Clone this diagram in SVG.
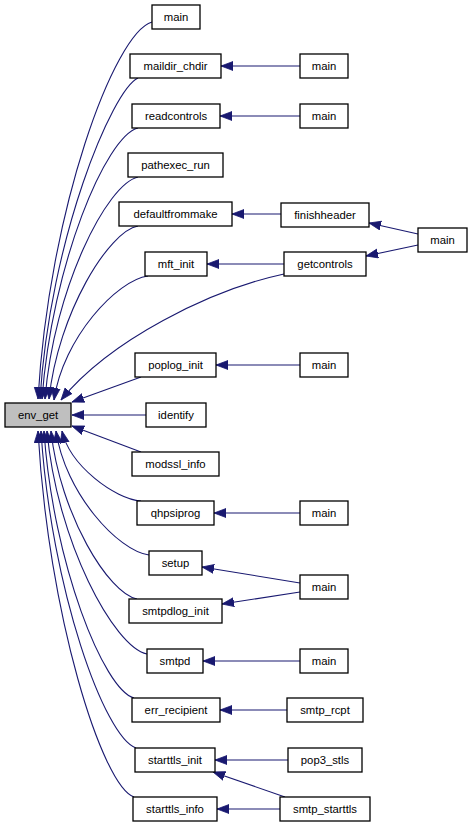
<svg xmlns="http://www.w3.org/2000/svg" width="472" height="827" viewBox="0 0 472 827">
<style>
.n rect{fill:#ffffff;stroke:#000000;stroke-width:1.3}
.n.hl rect{fill:#bfbfbf}
.n text{font-family:"Liberation Sans",Arial,sans-serif;font-size:11.3px;fill:#000000;text-anchor:middle}
.e path{fill:none;stroke:#191970;stroke-width:1.1;marker-end:url(#arr)}
</style>
<defs>
<marker id="arr" markerUnits="userSpaceOnUse" markerWidth="14" markerHeight="11" refX="12" refY="5" orient="auto">
<path d="M0,0.5 L12,5 L0,9.5 z" fill="#191970" stroke="#191970" stroke-width="0.8"/>
</marker>
</defs>
<rect width="472" height="827" fill="#ffffff"/>
<g id="edges" class="e">
<path d="M152,22 C114,33 49,210 38,399"/>
<path d="M138,78 C112,90 50,239 40,399"/>
<path d="M138,128 C106,136 52,264 42,399"/>
<path d="M138,177 C107,184 54,288 45,399"/>
<path d="M138,226 C109,231 58,313 49,399"/>
<path d="M148,276 C117,280 63,338 54,400"/>
<path d="M284,274 C210,290 110,340 61,400"/>
<path d="M141,377 L72,402"/>
<path d="M146,415 L72,415"/>
<path d="M141,452 L72,426"/>
<path d="M141,501 C115,499 70,466 62,431"/>
<path d="M149,555 C118,551 65,493 56,431"/>
<path d="M137,599 C109,594 60,515 51,431"/>
<path d="M147,654 C114,647 57,542 47,431"/>
<path d="M134,698 C104,690 53,564 44,431"/>
<path d="M136,748 C105,738 51,590 41,431"/>
<path d="M134,797 C102,786 48,614 38,431"/>
<path d="M300,66 L221,66"/>
<path d="M300,116 L220,116"/>
<path d="M281,214 L232,214"/>
<path d="M418,234 L369,223"/>
<path d="M418,245 L366,256"/>
<path d="M284,264 L207,264"/>
<path d="M300,365 L216,365"/>
<path d="M300,513 L214,513"/>
<path d="M300,583 L202,567"/>
<path d="M300,592 L222,604"/>
<path d="M300,661 L203,661"/>
<path d="M287,710 L220,710"/>
<path d="M288,760 L215,760"/>
<path d="M285,797 L213,772"/>
<path d="M280,809 L217,809"/>
</g>
<g id="n_main_a" class="n"><rect x="152" y="5" width="48" height="24"/><text x="176" y="21">main</text></g>
<g id="n_maildir_chdir" class="n"><rect x="130" y="54" width="91" height="24"/><text x="175.5" y="70">maildir_chdir</text></g>
<g id="n_main_b" class="n"><rect x="300" y="54" width="48" height="24"/><text x="324" y="70">main</text></g>
<g id="n_readcontrols" class="n"><rect x="132" y="104" width="88" height="24"/><text x="176" y="120">readcontrols</text></g>
<g id="n_main_c" class="n"><rect x="300" y="104" width="48" height="24"/><text x="324" y="120">main</text></g>
<g id="n_pathexec_run" class="n"><rect x="128" y="153" width="95" height="24"/><text x="175.5" y="169">pathexec_run</text></g>
<g id="n_defaultfrommake" class="n"><rect x="119" y="202" width="113" height="24"/><text x="175.5" y="218">defaultfrommake</text></g>
<g id="n_finishheader" class="n"><rect x="281" y="203" width="88" height="24"/><text x="325" y="219">finishheader</text></g>
<g id="n_main_d" class="n"><rect x="418" y="228" width="49" height="24"/><text x="442.5" y="244">main</text></g>
<g id="n_mft_init" class="n"><rect x="145" y="252" width="62" height="24"/><text x="176" y="268">mft_init</text></g>
<g id="n_getcontrols" class="n"><rect x="284" y="252" width="82" height="24"/><text x="325" y="268">getcontrols</text></g>
<g id="n_poplog_init" class="n"><rect x="135" y="353" width="81" height="24"/><text x="175.5" y="369">poplog_init</text></g>
<g id="n_main_e" class="n"><rect x="300" y="353" width="48" height="24"/><text x="324" y="369">main</text></g>
<g id="n_env_get" class="n hl"><rect x="5" y="403" width="66" height="24"/><text x="38" y="419">env_get</text></g>
<g id="n_identify" class="n"><rect x="146" y="403" width="60" height="24"/><text x="176" y="419">identify</text></g>
<g id="n_modssl_info" class="n"><rect x="132" y="452" width="87" height="24"/><text x="175.5" y="468">modssl_info</text></g>
<g id="n_qhpsiprog" class="n"><rect x="137" y="501" width="77" height="24"/><text x="175.5" y="517">qhpsiprog</text></g>
<g id="n_main_f" class="n"><rect x="300" y="501" width="48" height="24"/><text x="324" y="517">main</text></g>
<g id="n_setup" class="n"><rect x="149" y="551" width="53" height="24"/><text x="175.5" y="567">setup</text></g>
<g id="n_main_g" class="n"><rect x="300" y="575" width="48" height="24"/><text x="324" y="591">main</text></g>
<g id="n_smtpdlog_init" class="n"><rect x="129" y="599" width="93" height="24"/><text x="175.5" y="615">smtpdlog_init</text></g>
<g id="n_smtpd" class="n"><rect x="147" y="649" width="56" height="24"/><text x="175" y="665">smtpd</text></g>
<g id="n_main_h" class="n"><rect x="300" y="649" width="48" height="24"/><text x="324" y="665">main</text></g>
<g id="n_err_recipient" class="n"><rect x="132" y="698" width="88" height="24"/><text x="176" y="714">err_recipient</text></g>
<g id="n_smtp_rcpt" class="n"><rect x="287" y="698" width="76" height="24"/><text x="325" y="714">smtp_rcpt</text></g>
<g id="n_starttls_init" class="n"><rect x="135" y="748" width="80" height="24"/><text x="175" y="764">starttls_init</text></g>
<g id="n_pop3_stls" class="n"><rect x="288" y="748" width="74" height="24"/><text x="325" y="764">pop3_stls</text></g>
<g id="n_starttls_info" class="n"><rect x="133" y="797" width="84" height="24"/><text x="175" y="813">starttls_info</text></g>
<g id="n_smtp_starttls" class="n"><rect x="280" y="797" width="90" height="24"/><text x="325" y="813">smtp_starttls</text></g>
</svg>
